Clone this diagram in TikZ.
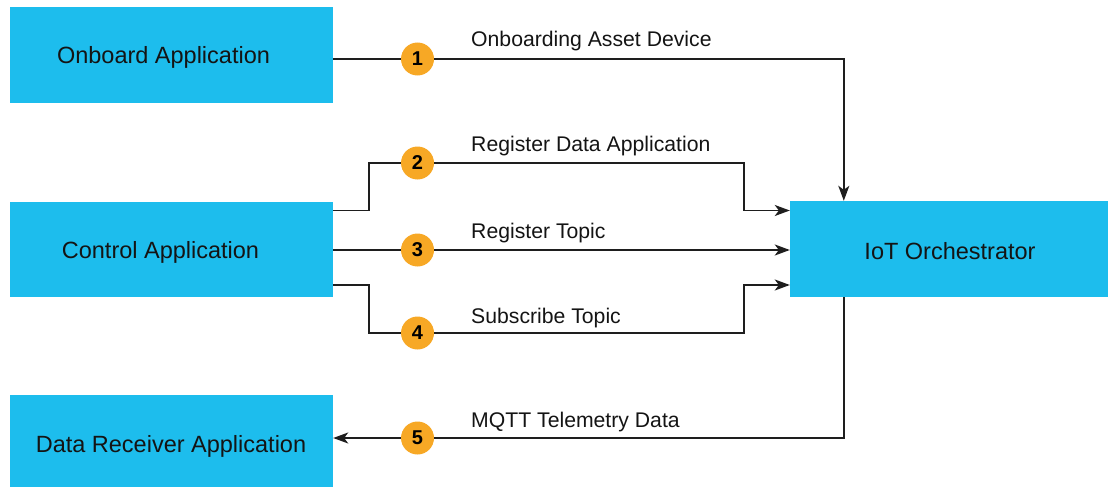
\documentclass[tikz,border=0pt]{standalone}
\usepackage{fontspec}
\setmainfont{Liberation Sans}
\usetikzlibrary{arrows.meta,calc}
\definecolor{boxblue}{RGB}{29,189,237}
\definecolor{numorange}{RGB}{247,168,37}
\definecolor{linegray}{RGB}{30,30,30}
\definecolor{txt}{RGB}{20,20,20}
\begin{document}
\begin{tikzpicture}[x=1pt,y=-1pt,
  appbox/.style={fill=boxblue,draw=none,inner sep=0pt,anchor=center},
  boxtext/.style={font=\fontsize{23.5}{26}\selectfont,text=txt,inner sep=0pt,anchor=base},
  lbl/.style={font=\fontsize{21.2}{24}\selectfont,text=txt,inner sep=0pt,anchor=base west},
  num/.style={circle,fill=numorange,draw=none,minimum size=33pt,inner sep=0pt,
    font=\fontsize{20}{21}\selectfont\bfseries,text=black},
  conn/.style={draw=linegray,line width=1.6pt},
  arr/.style={conn,-{Stealth[length=15pt,width=11pt,inset=4pt]}}]
\useasboundingbox (0,0) rectangle (1108,487);
% boxes
\node[appbox,minimum width=323pt,minimum height=96pt] (onb) at (171.5,55) {};
\node[appbox,minimum width=323pt,minimum height=95pt] (ctl) at (171.5,249.5) {};
\node[appbox,minimum width=323pt,minimum height=92pt] (drc) at (171.5,441) {};
\node[appbox,minimum width=318pt,minimum height=96pt] (iot) at (949,249) {};
% box texts
\node[boxtext] (onbT) at (163.5,63.5) {Onboard Application};
\node[boxtext] (ctlT) at (160.5,258) {Control Application};
\node[boxtext] (drcT) at (171,452.5) {Data Receiver Application};
\node[boxtext] (iotT) at (950,259) {IoT Orchestrator};
% number badges
\node[num] (n1) at (417.5,59) {1};
\node[num] (n2) at (417.5,163) {2};
\node[num] (n3) at (417.5,250) {3};
\node[num] (n4) at (417.5,333) {4};
\node[num] (n5) at (417.5,438) {5};
% labels
\node[lbl] (l1) at (471,47) {Onboarding Asset Device};
\node[lbl] (l2) at (471,151) {Register Data Application};
\node[lbl] (l3) at (471,238) {Register Topic};
\node[lbl] (l4) at (471,323) {Subscribe Topic};
\node[lbl] (l5) at (471,427) {MQTT Telemetry Data};
% connector 1
\draw[conn] (onb.east |- n1) -- (n1.west);
\draw[arr] (n1.east) -| ($(iot.north west)+(54,0)$);
% connector 2
\draw[conn] ($(ctl.east)+(0,-39)$) -- ++(36,0) |- (n2.west);
\draw[arr] (n2.east) -| ($(iot.west)+(-46,-38.5)$) -- ($(iot.west)+(0,-38.5)$);
% connector 3
\draw[conn] (ctl.east |- n3) -- (n3.west);
\draw[arr] (n3.east) -- (iot.west |- n3);
% connector 4
\draw[conn] ($(ctl.east)+(0,35.5)$) -- ++(36,0) |- (n4.west);
\draw[arr] (n4.east) -| ($(iot.west)+(-46,36)$) -- ($(iot.west)+(0,36)$);
% connector 5
\draw[conn] ($(iot.south west)+(54,0)$) |- (n5.east);
\draw[arr] (n5.west) -- (drc.east |- n5);
\end{tikzpicture}
\end{document}
